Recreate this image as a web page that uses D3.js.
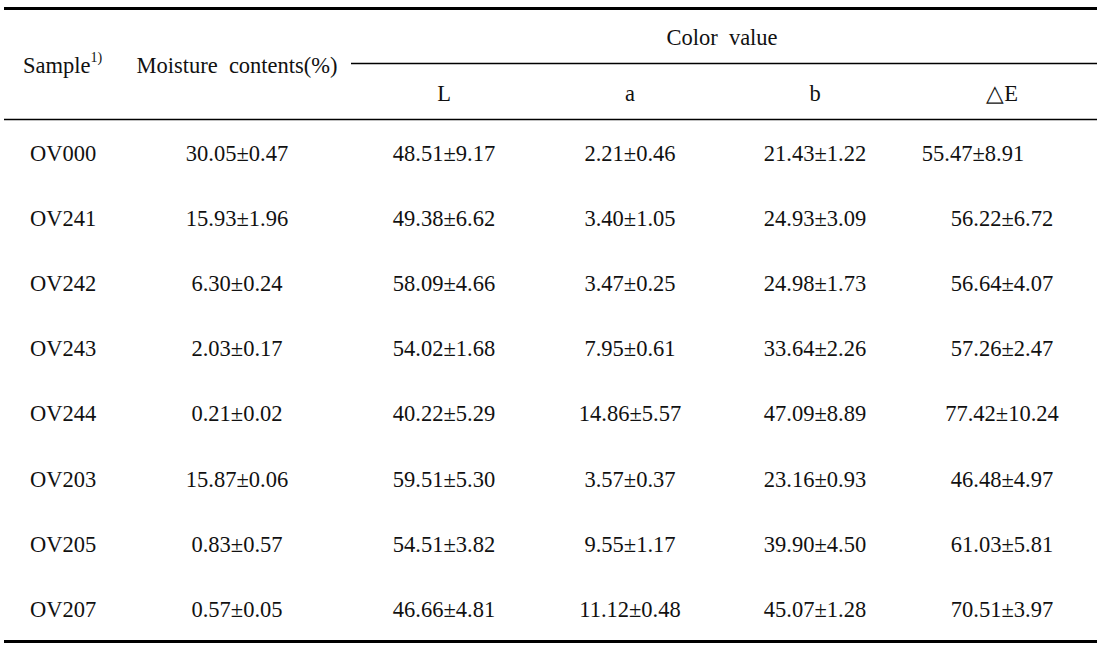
<!DOCTYPE html>
<html>
<head>
<meta charset="utf-8">
<script src="https://cdn.jsdelivr.net/npm/d3@7"></script>
<style>
  body { margin: 0; background: #fff; }
  text { font-family: "Liberation Serif", "Times New Roman", serif; fill: #111; }
</style>
</head>
<body>
<script>
// table data
var samples = ["OV000", "OV241", "OV242", "OV243", "OV244", "OV203", "OV205", "OV207"];
var moisture = ["30.05±0.47", "15.93±1.96", "6.30±0.24", "2.03±0.17", "0.21±0.02", "15.87±0.06", "0.83±0.57", "0.57±0.05"];
var colorL = ["48.51±9.17", "49.38±6.62", "58.09±4.66", "54.02±1.68", "40.22±5.29", "59.51±5.30", "54.51±3.82", "46.66±4.81"];
var colorA = ["2.21±0.46", "3.40±1.05", "3.47±0.25", "7.95±0.61", "14.86±5.57", "3.57±0.37", "9.55±1.17", "11.12±0.48"];
var colorB = ["21.43±1.22", "24.93±3.09", "24.98±1.73", "33.64±2.26", "47.09±8.89", "23.16±0.93", "39.90±4.50", "45.07±1.28"];
var deltaE = ["55.47±8.91", "56.22±6.72", "56.64±4.07", "57.26±2.47", "77.42±10.24", "46.48±4.97", "61.03±5.81", "70.51±3.97"];
var columns = ["moisture", "L", "a", "b", "dE"];
var subHeaders = ["L", "a", "b", "\u25B3E"];

var width = 1103, height = 653,
	fs = 22.5;

var svg = d3.select("body").append("svg")
	.attr("width", width)
	.attr("height", height);

// row and column positions
var y = d3.scalePoint()
	.domain(samples)
	.range([153, 609]);

var x = d3.scaleOrdinal()
	.domain(columns)
	.range([237, 444, 630, 815, 1002]);

// the first delta E cell sits off-centre in the original
var cellShift = {"OV000|dE": -29};

// rules
function rule(x1, x2, yy, w) {
	svg.append("line")
		.attr("x1", x1).attr("x2", x2)
		.attr("y1", yy).attr("y2", yy)
		.attr("stroke", "#000")
		.attr("stroke-width", w);
}
rule(4, 1097, 8.5, 3);
rule(351, 1097, 63.5, 1.3);
rule(4, 1097, 119.5, 1.3);
rule(4, 1097, 641.5, 3);

// header
var head = svg.append("g").attr("font-size", fs);

var s = head.append("text")
	.attr("x", 23).attr("y", 65).attr("dy", "0.35em")
	.text("Sample");
s.append("tspan")
	.attr("font-size", 14).attr("dy", "-0.8em")
	.text("1)");

head.append("text")
	.attr("x", 237).attr("y", 65).attr("dy", "0.35em")
	.attr("text-anchor", "middle")
	.style("white-space", "pre")
	.text("Moisture  contents(%)");

head.append("text")
	.attr("x", 722).attr("y", 37).attr("dy", "0.35em")
	.attr("text-anchor", "middle")
	.style("white-space", "pre")
	.text("Color  value");

head.selectAll(".sub")
	.data(subHeaders)
	.enter().append("text")
		.attr("class", "sub")
		.attr("x", function(d, i) { return x(columns[i + 1]); })
		.attr("y", 93).attr("dy", "0.35em")
		.attr("text-anchor", "middle")
		.text(function(d) { return d; });

// body rows
var rows = svg.selectAll(".row")
	.data(samples)
	.enter().append("g")
		.attr("class", "row")
		.attr("font-size", fs)
		.attr("transform", function(d) { return "translate(0," + y(d) + ")"; });

rows.append("text")
	.attr("x", 30).attr("dy", "0.35em")
	.text(function(d) { return d; });

var series = [moisture, colorL, colorA, colorB, deltaE];

rows.selectAll(".cell")
	.data(function(d, i) {
		return columns.map(function(c, j) { return {sample: d, col: c, value: series[j][i]}; });
	})
	.enter().append("text")
		.attr("class", "cell")
		.attr("x", function(d) { return x(d.col) + (cellShift[d.sample + "|" + d.col] || 0); })
		.attr("dy", "0.35em")
		.attr("text-anchor", "middle")
		.text(function(d) { return d.value; });
</script>
</body>
</html>
